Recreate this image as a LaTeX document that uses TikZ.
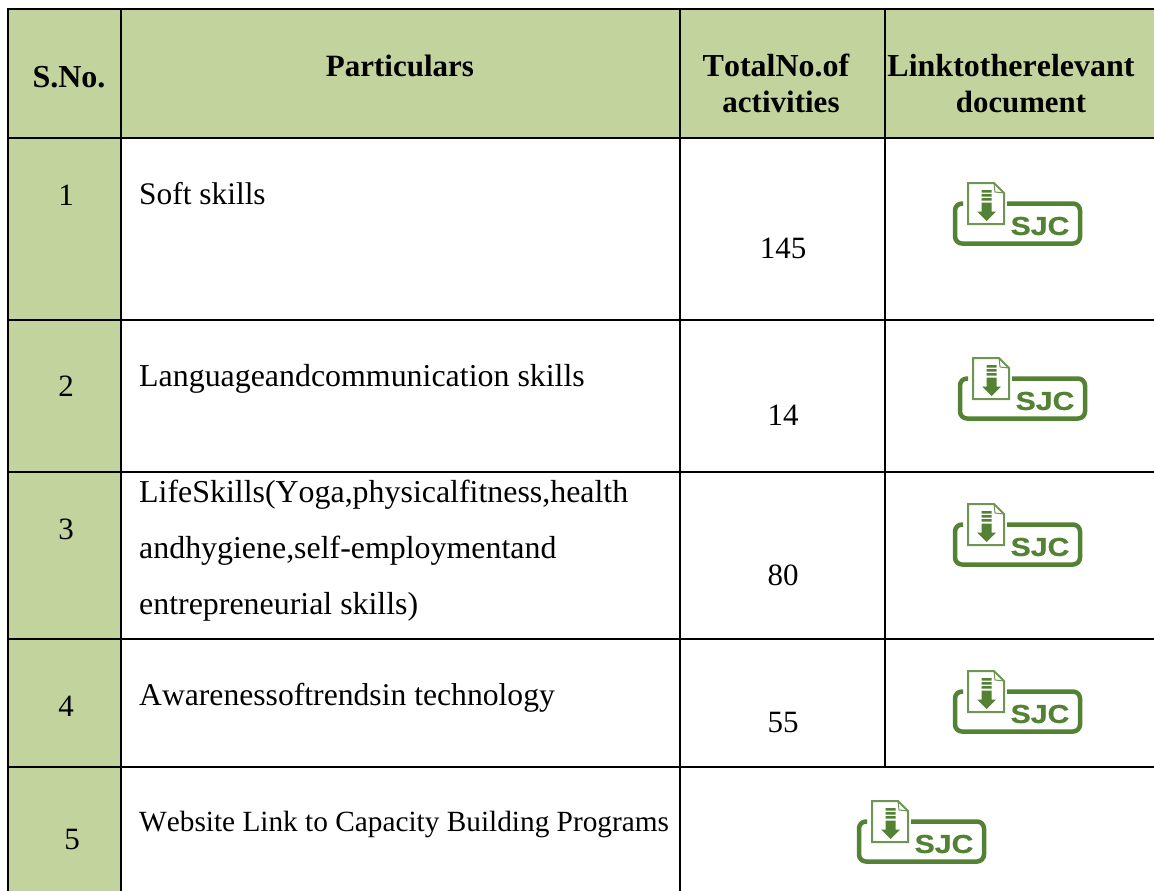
\documentclass[tikz,border=0pt]{standalone}
\usepackage{fontspec}
\setmainfont[Kerning=Off]{Liberation Serif}
\newfontfamily\iconfont[BoldFeatures={FakeStretch=1.16,FakeBold=0.6}]{Liberation Sans}
\definecolor{hdr}{HTML}{C2D39E}
\definecolor{icg}{HTML}{548235}
\tikzset{
 cell/.style={inner sep=0pt,anchor=base west,font=\fontsize{#1bp}{38bp}\selectfont},
 cell/.default=31.9,
 head/.style={inner sep=0pt,align=center,anchor=base,font=\fontsize{#1bp}{38bp}\selectfont\bfseries},
 head/.default=32,
 num/.style={inner sep=0pt,anchor=base,font=\fontsize{31bp}{38bp}\selectfont},
 rule/.style={line width=2.4bp,black},
 sjc/.pic={
  \draw[icg,line width=4.5bp,rounded corners=7bp] (10,21.5)--(2,21.5)--(2,61.5)--(127,61.5)--(127,21.5)--(54,21.5);
  \fill[white] (14,0) rectangle (52,44);
  \draw[icg!85,line width=2bp] (15,1)--(41,1)--(51,11)--(51,42)--(15,42)--cycle;
  \draw[icg!85,line width=1bp] (41,1)--(42,10)--(51,11);
  \fill[icg] (28.5,8) rectangle (38.5,10.5) (28.5,12) rectangle (38.5,14.5) (28.5,16) rectangle (38.5,18.5);
  \fill[icg] (28.5,20.5) -- (38.5,20.5) -- (38.5,29.5) -- (43,29.5) -- (33.5,39) -- (24,29.5) -- (28.5,29.5) -- cycle;
  \node[inner sep=0pt,icg,font=\iconfont\fontsize{26bp}{26bp}\selectfont\bfseries] at (87,44) {SJC};
 }}
\begin{document}
\begin{tikzpicture}[x=1bp,y=-1bp]
\useasboundingbox (0,0) rectangle (1154,891);
\fill[hdr] (8,9) rectangle (1154,138);
\fill[hdr] (8,138) rectangle (121,891);
\draw[rule] (1154,9) -- (8,9) -- (8,891);
\draw[rule] (121,9) -- (121,891);
\draw[rule] (680,9) -- (680,891);
\draw[rule] (885,9) -- (885,767);
\foreach \y in {138,320,472,639,767} \draw[rule] (8,\y) -- (1154,\y);
\node[head] (h1) at (69,87) {S.No.};
\node[head=31] (h2) at (400,76) {Particulars};
\node[head] (h3) at (776,76) {TotalNo.of};
\node[head=31] (h3b) at (781,112) {activities};
\node[head] (h4) at (1011,76) {Linktotherelevant};
\node[head=30.8] (h4b) at (1021,112) {document};
\node[num] (n1) at (66,205) {1};
\node[num] (n2) at (66,396) {2};
\node[num] (n3) at (66,539) {3};
\node[num] (n4) at (66,716) {4};
\node[num] (n5) at (72,849) {5};
\node[cell=31.4] (p1) at (139,204) {Soft skills};
\node[cell] (p2) at (139,386) {Languageandcommunication skills};
\node[cell] (p3a) at (139,502) {LifeSkills(Yoga,physicalfitness,health};
\node[cell] (p3b) at (139,558) {andhygiene,self-employmentand};
\node[cell] (p3c) at (139,614) {entrepreneurial skills)};
\node[cell=31.65] (p4) at (139,705) {Awarenessoftrendsin technology};
\node[cell=29.3] (p5) at (139,831) {Website Link to Capacity Building Programs};
\node[num] (t1) at (783,258) {145};
\node[num] (t2) at (783,425) {14};
\node[num] (t3) at (783,585) {80};
\node[num] (t4) at (783,732) {55};
\pic at (953,182) {sjc};
\pic at (958,357) {sjc};
\pic at (953,503) {sjc};
\pic at (953,670) {sjc};
\pic at (857,800) {sjc};
\end{tikzpicture}
\end{document}
